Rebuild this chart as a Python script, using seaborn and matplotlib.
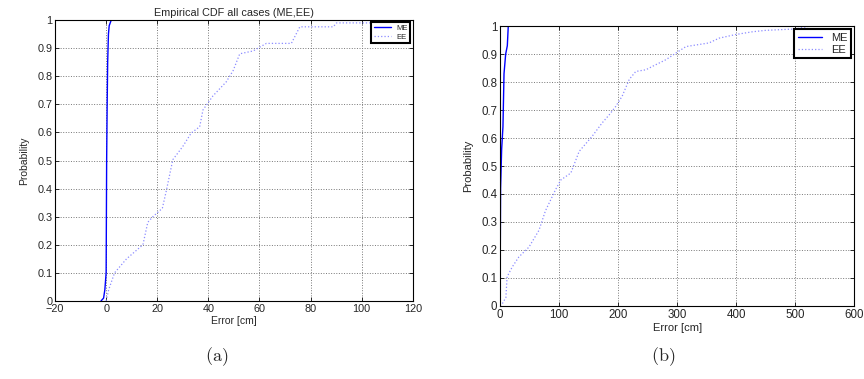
import matplotlib
matplotlib.use("Agg")
import matplotlib.pyplot as plt
import numpy as np
import pandas as pd
import seaborn as sns

# panel (a): errors in cm vs cumulative probability
a_me_x = [-2.0, -1.5, -1.0, -0.5, 0.0, 0.1, 0.2, 0.4, 0.6, 0.9, 1.2, 2.0]
a_me_y = [0.0, 0.005, 0.01, 0.04, 0.1, 0.3, 0.5, 0.7, 0.85, 0.95, 0.98, 1.0]
a_ee_x = [0.0, 1.0, 3.3, 8.0, 14.4, 16.3, 18.3, 22.0, 23.5, 26.1, 30.0, 33.3,
          36.6, 37.9, 41.8, 47.0, 49.7, 52.3, 57.5, 62.7, 72.5, 75.8, 88.9,
          90.2, 105.9]
a_ee_y = [0.0, 0.04, 0.1, 0.15, 0.2, 0.28, 0.3, 0.33, 0.39, 0.503, 0.55, 0.598,
          0.62, 0.68, 0.73, 0.78, 0.82, 0.88, 0.89, 0.917, 0.917, 0.976, 0.976,
          0.99, 0.99]

# panel (b)
b_me_x = [0.0, 0.5, 1.0, 2.8, 5.0, 6.8, 9.6, 12.4, 14.0]
b_me_y = [0.0, 0.2, 0.42, 0.56, 0.64, 0.83, 0.9, 0.93, 1.0]
b_ee_x = [0, 4, 10, 12, 21, 32, 49, 66, 77, 94, 103, 120, 134, 156, 173, 185,
          196, 207, 219, 230, 247, 258, 281, 298, 315, 354, 371, 399, 428, 450,
          501, 524]
b_ee_y = [0.0, 0.008, 0.03, 0.104, 0.14, 0.175, 0.21, 0.27, 0.34, 0.415, 0.45,
          0.475, 0.552, 0.606, 0.654, 0.683, 0.713, 0.75, 0.81, 0.838, 0.844,
          0.856, 0.88, 0.904, 0.927, 0.94, 0.957, 0.97, 0.98, 0.985, 0.99, 1.0]

a_xticks = [-20, 0, 20, 40, 60, 80, 100, 120]
b_xticks = [0, 100, 200, 300, 400, 500, 600]
yticks = [round(v * 0.1, 1) for v in range(11)]
ytick_labels = ["0"] + [f"{v:.1f}" for v in yticks[1:-1]] + ["1"]

ME_COLOR = "#0000ff"
EE_COLOR = "#8c8cff"

sns.set_style("ticks")
plt.rcParams["font.family"] = ["Liberation Sans", "DejaVu Sans"]
plt.rcParams["mathtext.fontset"] = "cm"


def draw_panel(ax, me_x, me_y, ee_x, ee_y, xticks, tick_size, legend_size):
    sns.lineplot(x=me_x, y=me_y, ax=ax, color=ME_COLOR, linewidth=1.0,
                 sort=False, estimator=None, label="ME")
    sns.lineplot(x=ee_x, y=ee_y, ax=ax, color=EE_COLOR, linewidth=0.9,
                 linestyle=":", sort=False, estimator=None, label="EE")
    ax.set_xlim(xticks[0], xticks[-1])
    ax.set_ylim(0, 1)
    ax.set_xticks(xticks)
    ax.set_yticks(yticks)
    ax.set_yticklabels(ytick_labels)
    ax.grid(True, linestyle=":", color="#777777", linewidth=0.7)
    ax.tick_params(direction="in", top=True, right=True, length=3,
                   width=0.7, labelsize=tick_size, pad=2)
    for spine in ax.spines.values():
        spine.set_visible(True)
        spine.set_color("black")
        spine.set_linewidth(0.8)
    ax.set_xlabel("Error [cm]", fontsize=tick_size - 0.3, labelpad=2)
    ax.set_ylabel("Probability", fontsize=tick_size - 0.3, labelpad=6)
    leg = ax.legend(loc="upper right", fontsize=legend_size, fancybox=False,
                    framealpha=1, edgecolor="black", borderpad=0.3,
                    handlelength=2.2, labelspacing=0.2, borderaxespad=0.3)
    leg.get_frame().set_linewidth(1.5)


fig = plt.figure(figsize=(8.64, 3.79), dpi=100)
ax_a = fig.add_axes([0.0637, 0.206, 0.414, 0.741])
ax_b = fig.add_axes([0.5787, 0.193, 0.410, 0.738])

draw_panel(ax_a, a_me_x, a_me_y, a_ee_x, a_ee_y, a_xticks, 7.8, 5.5)
draw_panel(ax_b, b_me_x, b_me_y, b_ee_x, b_ee_y, b_xticks, 8.3, 8)
ax_a.set_title("Empirical CDF all cases (ME,EE)", fontsize=7.8, pad=3)

fig.text(217 / 864, 1 - 357 / 379, r"$\mathrm{(a)}$", fontsize=13,
         ha="center", va="center")
fig.text(663 / 864, 1 - 357 / 379, r"$\mathrm{(b)}$", fontsize=13,
         ha="center", va="center")

fig.savefig("out.png", dpi=100)
